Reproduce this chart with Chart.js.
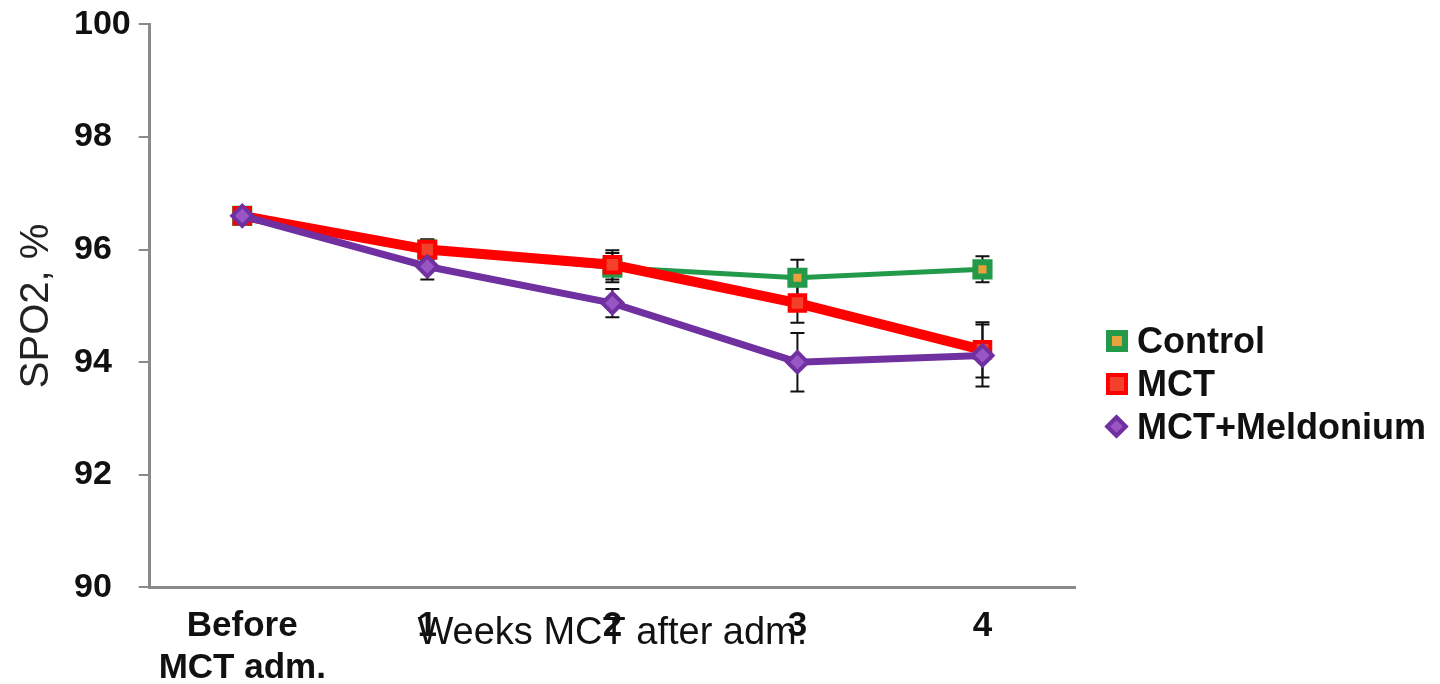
<!DOCTYPE html>
<html>
<head>
<meta charset="utf-8">
<script src="https://cdn.jsdelivr.net/npm/chart.js@4.4.1/dist/chart.umd.min.js"></script>
<style>
  html, body { margin: 0; padding: 0; background: #fff; }
  .chart-container { width: 1440px; height: 684px; position: relative; }
  #legend {
    position: absolute; left: 1106px; top: 319px;
    margin: 0; padding: 0; list-style: none;
    font: bold 36px 'Liberation Sans', Arial, sans-serif; color: #111;
  }
  #legend li { display: flex; align-items: center; height: 43px; white-space: nowrap; }
  #legend .box { display: inline-block; width: 22px; height: 22px; box-sizing: border-box; border-style: solid; margin-right: 9px; }
  #legend .box.diamond { width: 17px; height: 17px; transform: rotate(45deg); margin-left: 2px; margin-right: 12px; }
</style>
</head>
<body>
<div class="chart-container">
  <canvas id="spo2Chart"></canvas>
  <ul id="legend"></ul>
</div>
<script type="text/javascript">
  // values
  const weeks = [["Before", "MCT adm."], "1", "2", "3", "4"];
  const controlValues = [96.6, 96.0, 95.68, 95.5, 95.65];
  const controlErrors = [0.06, 0.18, 0.26, 0.32, 0.23];
  const mctValues = [96.6, 96.0, 95.73, 95.05, 94.22];
  const mctErrors = [0.06, 0.18, 0.26, 0.35, 0.49];
  const meldoniumValues = [96.6, 95.7, 95.05, 94.0, 94.12];
  const meldoniumErrors = [0.06, 0.23, 0.25, 0.52, 0.55];
  const yTicks = [90, 92, 94, 96, 98, 100];

  Chart.defaults.font.family = "'Liberation Sans', Arial, sans-serif";
  Chart.defaults.color = "#111";

  // vertical error bars with caps, drawn under the lines
  const errorBars = {
    id: "errorBars",
    beforeDatasetsDraw(chart) {
      const ctx = chart.ctx;
      const y = chart.scales.y;
      ctx.save();
      ctx.strokeStyle = "#111";
      ctx.lineWidth = 2;
      chart.data.datasets.forEach((ds, i) => {
        const meta = chart.getDatasetMeta(i);
        ds.errors.forEach((e, j) => {
          const px = meta.data[j].x;
          const top = y.getPixelForValue(ds.data[j] + e);
          const bottom = y.getPixelForValue(ds.data[j] - e);
          ctx.beginPath();
          ctx.moveTo(px, top);
          ctx.lineTo(px, bottom);
          ctx.moveTo(px - 7, top);
          ctx.lineTo(px + 7, top);
          ctx.moveTo(px - 7, bottom);
          ctx.lineTo(px + 7, bottom);
          ctx.stroke();
        });
      });
      ctx.restore();
    }
  };

  // legend as html, built from the chart's own legend items
  const htmlLegend = {
    id: "htmlLegend",
    afterUpdate(chart) {
      const list = document.getElementById("legend");
      list.innerHTML = "";
      const items = chart.options.plugins.legend.labels.generateLabels(chart);
      items.sort((a, b) => a.datasetIndex - b.datasetIndex).forEach(item => {
        const li = document.createElement("li");
        const box = document.createElement("span");
        box.className = "box" + (item.pointStyle === "rectRot" ? " diamond" : "");
        box.style.background = item.fillStyle;
        box.style.borderColor = item.strokeStyle;
        box.style.borderWidth = item.lineWidth + "px";
        li.appendChild(box);
        li.appendChild(document.createTextNode(item.text));
        list.appendChild(li);
      });
    }
  };

  new Chart("spo2Chart", {
    type: "line",
    data: {
      labels: weeks,
      datasets: [
        {
          label: "Control",
          data: controlValues,
          errors: controlErrors,
          borderColor: "#23994a",
          borderWidth: 5,
          pointStyle: "rect",
          pointRadius: 10,
          pointBorderWidth: 6,
          pointBorderColor: "#23994a",
          pointBackgroundColor: "#e9a23b",
          order: 3
        },
        {
          label: "MCT",
          data: mctValues,
          errors: mctErrors,
          borderColor: "#ff0000",
          borderWidth: 10,
          pointStyle: "rect",
          pointRadius: 11,
          pointBorderWidth: 4,
          pointBorderColor: "#ff0000",
          pointBackgroundColor: "#f2402a",
          order: 2
        },
        {
          label: "MCT+Meldonium",
          data: meldoniumValues,
          errors: meldoniumErrors,
          borderColor: "#7030a0",
          borderWidth: 7,
          pointStyle: "rectRot",
          pointRadius: 10,
          pointBorderWidth: 4,
          pointBorderColor: "#7030a0",
          pointBackgroundColor: "#9856c4",
          order: 1
        }
      ]
    },
    options: {
      responsive: true,
      maintainAspectRatio: false,
      animation: false,
      layout: { padding: { left: 0, right: 365, top: 0, bottom: 0 } },
      plugins: {
        tooltip: { enabled: false },
        title: {
          display: true,
          text: "SPO2, %",
          position: "left",
          fullSize: false,
          color: "#222",
          font: { size: 40, weight: "normal" },
          padding: { top: 13, bottom: 13 }
        },
        legend: {
          display: false,
          labels: { usePointStyle: true }
        }
      },
      scales: {
        x: {
          offset: true,
          grid: { display: false },
          border: { display: true, color: "#8a8a8a", width: 3 },
          ticks: {
            autoSkip: false,
            maxRotation: 0,
            padding: 10,
            color: "#111",
            font: { size: 35, weight: "bold" }
          },
          title: {
            display: true,
            text: "Weeks MCT after adm.",
            color: "#111",
            font: { size: 38, weight: "normal", family: "'Liberation Sans Narrow', 'Liberation Sans', Arial, sans-serif" },
            padding: { top: -89, bottom: 28 }
          }
        },
        y: {
          min: yTicks[0],
          max: yTicks[yTicks.length - 1],
          afterBuildTicks: (scale) => { scale.ticks = yTicks.map(v => ({ value: v })); },
          grid: { drawOnChartArea: false, color: "#8a8a8a", lineWidth: 2, tickLength: 11 },
          border: { display: true, color: "#8a8a8a", width: 3 },
          ticks: {
            crossAlign: "far",
            padding: 4,
            color: "#111",
            font: { size: 34, weight: "bold" }
          }
        }
      }
    },
    plugins: [errorBars, htmlLegend]
  });
</script>
</body>
</html>
